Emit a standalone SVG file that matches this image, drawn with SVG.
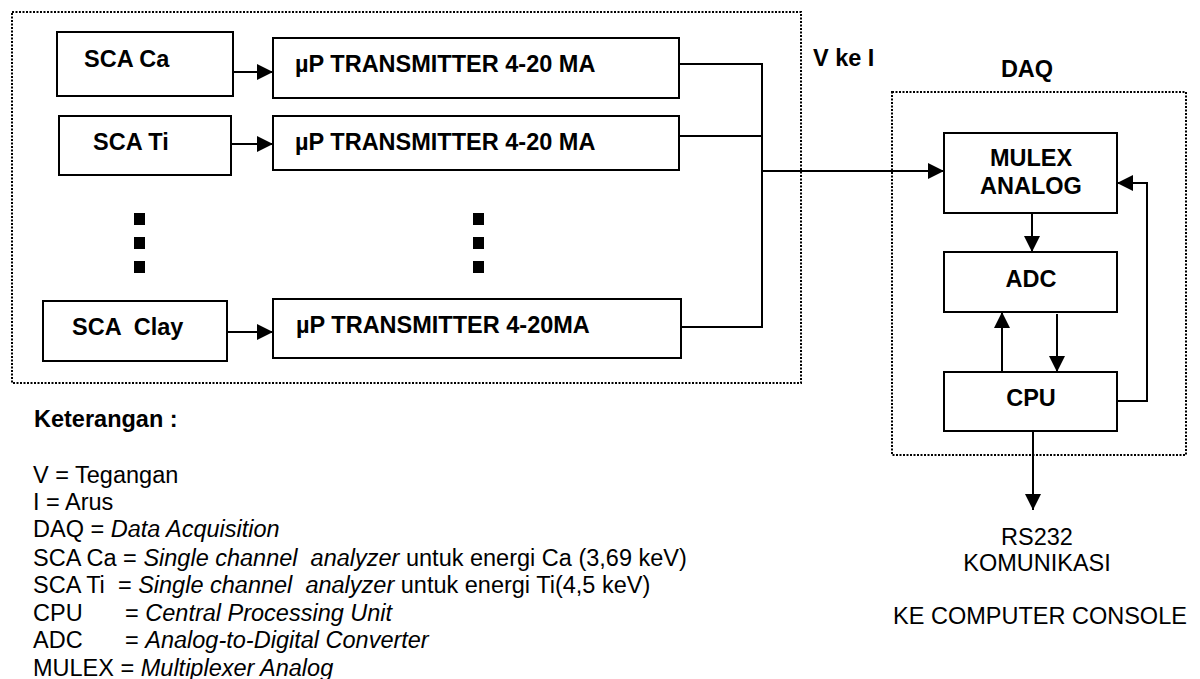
<svg xmlns="http://www.w3.org/2000/svg" width="1200" height="679" viewBox="0 0 1200 679">
<style>
  .box { fill: #ffffff; stroke: #000000; stroke-width: 2; }
  .dot { fill: none; stroke: #000000; stroke-width: 2; stroke-dasharray: 2 1.5; }
  .ln { fill: none; stroke: #000000; stroke-width: 2; }
  .b { font-family: "Liberation Sans", Arial, sans-serif; font-weight: bold; font-size: 23.5px; fill: #000000; }
  .r { font-family: "Liberation Sans", Arial, sans-serif; font-size: 23.5px; fill: #000000; }
  .i { font-style: italic; }
  .sq { fill: #000000; }
</style>
<defs>
  <marker id="ah" viewBox="0 0 16 16" refX="16" refY="8" markerWidth="16" markerHeight="16" markerUnits="userSpaceOnUse" orient="auto">
    <path d="M0,0 L16,8 L0,16 Z" fill="#000000"/>
  </marker>
</defs>
<rect width="1200" height="679" fill="#ffffff"/>

<g id="transmitter-group">
  <rect class="dot" x="12" y="12" width="789" height="371"/>
</g>
<g id="daq-group">
  <rect class="dot" x="892" y="92" width="294" height="363"/>
  <text class="b" x="1027" y="77" text-anchor="middle">DAQ</text>
</g>

<g id="sca-ca">
  <rect class="box" x="57" y="32" width="176" height="64"/>
  <text class="b" x="84" y="67">SCA Ca</text>
</g>
<g id="sca-ti">
  <rect class="box" x="59" y="116" width="172" height="59"/>
  <text class="b" x="93" y="150">SCA Ti</text>
</g>
<g id="sca-clay">
  <rect class="box" x="43" y="301" width="184" height="60"/>
  <text class="b" x="72" y="335" xml:space="preserve">SCA  Clay</text>
</g>
<g id="tx-ca">
  <rect class="box" x="273" y="38" width="406" height="60"/>
  <text class="b" x="295" y="72">µP TRANSMITTER 4-20 MA</text>
</g>
<g id="tx-ti">
  <rect class="box" x="273" y="116" width="406" height="54"/>
  <text class="b" x="295" y="150">µP TRANSMITTER 4-20 MA</text>
</g>
<g id="tx-clay">
  <rect class="box" x="273" y="299" width="408" height="59"/>
  <text class="b" x="296" y="333">µP TRANSMITTER 4-20MA</text>
</g>
<g id="ellipsis-left">
  <rect class="sq" x="134" y="213" width="11" height="12"/>
  <rect class="sq" x="134" y="237" width="11" height="12"/>
  <rect class="sq" x="134" y="261" width="11" height="12"/>
</g>
<g id="ellipsis-right">
  <rect class="sq" x="473" y="213" width="11" height="12"/>
  <rect class="sq" x="473" y="237" width="11" height="12"/>
  <rect class="sq" x="473" y="261" width="11" height="12"/>
</g>
<g id="v-ke-i">
  <text class="b" x="813" y="66">V ke I</text>
</g>

<g id="mulex">
  <rect class="box" x="944" y="133" width="173" height="80"/>
  <text class="b" x="1031" y="166" text-anchor="middle">MULEX</text>
  <text class="b" x="1031" y="194" text-anchor="middle">ANALOG</text>
</g>
<g id="adc">
  <rect class="box" x="944" y="252" width="173" height="60"/>
  <text class="b" x="1031" y="287" text-anchor="middle">ADC</text>
</g>
<g id="cpu">
  <rect class="box" x="944" y="372" width="173" height="59"/>
  <text class="b" x="1031" y="406" text-anchor="middle">CPU</text>
</g>
<g id="rs232">
  <text class="r" x="1037" y="545" text-anchor="middle">RS232</text>
  <text class="r" x="1037" y="571" text-anchor="middle">KOMUNIKASI</text>
  <text class="r" x="1040" y="624" text-anchor="middle">KE COMPUTER CONSOLE</text>
</g>

<g id="connectors">
  <line class="ln" x1="233" y1="72" x2="273" y2="72" marker-end="url(#ah)"/>
  <line class="ln" x1="231" y1="144" x2="273" y2="144" marker-end="url(#ah)"/>
  <line class="ln" x1="227" y1="332" x2="273" y2="332" marker-end="url(#ah)"/>
  <polyline class="ln" points="679,64 762,64"/>
  <polyline class="ln" points="679,136 762,136"/>
  <polyline class="ln" points="681,327 762,327 762,63"/>
  <line class="ln" x1="762" y1="171" x2="944" y2="171" marker-end="url(#ah)"/>
  <line class="ln" x1="1032" y1="213" x2="1032" y2="252" marker-end="url(#ah)"/>
  <line class="ln" x1="1002" y1="372" x2="1002" y2="312" marker-end="url(#ah)"/>
  <line class="ln" x1="1057" y1="314" x2="1057" y2="372" marker-end="url(#ah)"/>
  <polyline class="ln" points="1117,401 1147,401 1147,183 1117,183" marker-end="url(#ah)"/>
  <line class="ln" x1="1033" y1="431" x2="1033" y2="510" marker-end="url(#ah)"/>
</g>

<g id="legend">
  <text class="b" x="34" y="427">Keterangan :</text>
  <text class="r" x="33" y="483">V = Tegangan</text>
  <text class="r" x="33" y="510">I = Arus</text>
  <text class="r" x="33" y="537" xml:space="preserve">DAQ = <tspan class="i">Data Acquisition</tspan></text>
  <text class="r" x="33" y="566" xml:space="preserve">SCA Ca = <tspan class="i">Single channel  analyzer</tspan> untuk energi Ca (3,69 keV)</text>
  <text class="r" x="33" y="593" xml:space="preserve">SCA Ti  = <tspan class="i">Single channel  analyzer</tspan> untuk energi Ti(4,5 keV)</text>
  <text class="r" x="33" y="621" xml:space="preserve">CPU<tspan x="125">= </tspan><tspan class="i">Central Processing Unit</tspan></text>
  <text class="r" x="33" y="648" xml:space="preserve">ADC<tspan x="125">= </tspan><tspan class="i">Analog-to-Digital Converter</tspan></text>
  <text class="r" x="33" y="676" xml:space="preserve">MULEX = <tspan class="i">Multiplexer Analog</tspan></text>
</g>
</svg>
